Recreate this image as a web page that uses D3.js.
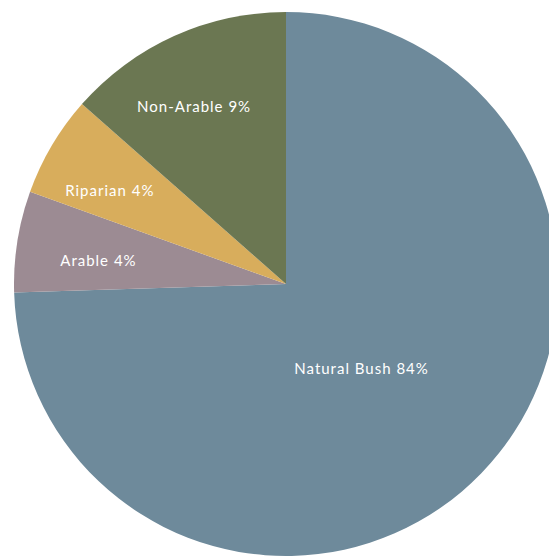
<!DOCTYPE html>
<html>
<head>
<meta charset="utf-8">
<script src="https://cdn.jsdelivr.net/npm/d3@7"></script>
<style>
  html, body { margin: 0; padding: 0; background: #ffffff; }
  svg { display: block; }
</style>
</head>
<body>
<svg id="chart" width="549" height="557"></svg>
<script>
// Data (drawn slice sizes; labels as printed)
const categories = ["Natural Bush", "Arable", "Riparian", "Non-Arable"];
const sliceValues = [74.5, 6.0, 6.0, 13.5];
const labelPercents = ["84%", "4%", "4%", "9%"];
const colors = ["#6e8a9b", "#9c8b93", "#d8ad5c", "#6b7752"];

// Label layout (angle nudge in degrees, radius as fraction of pie radius)
const labelAngleNudge = [4.25, -1.85, -2.55, -3.15];
const labelRadiusFrac = [0.418, 0.695, 0.734, 0.733];

const svg = d3.select("#chart");
const cx = 286, cy = 284, r = 272;

const data = categories.map((c, i) => ({ name: c, value: sliceValues[i], pct: labelPercents[i], color: colors[i], idx: i }));

const pie = d3.pie().value(d => d.value).sort(null);
const arcs = pie(data);

const arc = d3.arc().innerRadius(0).outerRadius(r);

const g = svg.append("g").attr("transform", `translate(${cx},${cy})`);

g.selectAll("path.slice")
  .data(arcs)
  .join("path")
  .attr("class", "slice")
  .attr("d", arc)
  .attr("fill", d => d.data.color);

g.selectAll("text.lbl")
  .data(arcs)
  .join("text")
  .attr("class", "lbl")
  .attr("transform", d => {
    const i = d.data.idx;
    const lr = r * labelRadiusFrac[i];
    const nudge = labelAngleNudge[i] * Math.PI / 180;
    const la = d3.arc().innerRadius(lr).outerRadius(lr);
    const [x, y] = la.centroid({ startAngle: d.startAngle + nudge, endAngle: d.endAngle + nudge });
    return `translate(${x},${y})`;
  })
  .attr("text-anchor", "middle")
  .attr("dy", "0.36em")
  .attr("fill", "#ffffff")
  .style("font-family", "Lato, 'Open Sans', sans-serif")
  .style("font-size", "15px")
  .style("letter-spacing", "1px")
  .text(d => `${d.data.name} ${d.data.pct}`);
</script>
</body>
</html>
